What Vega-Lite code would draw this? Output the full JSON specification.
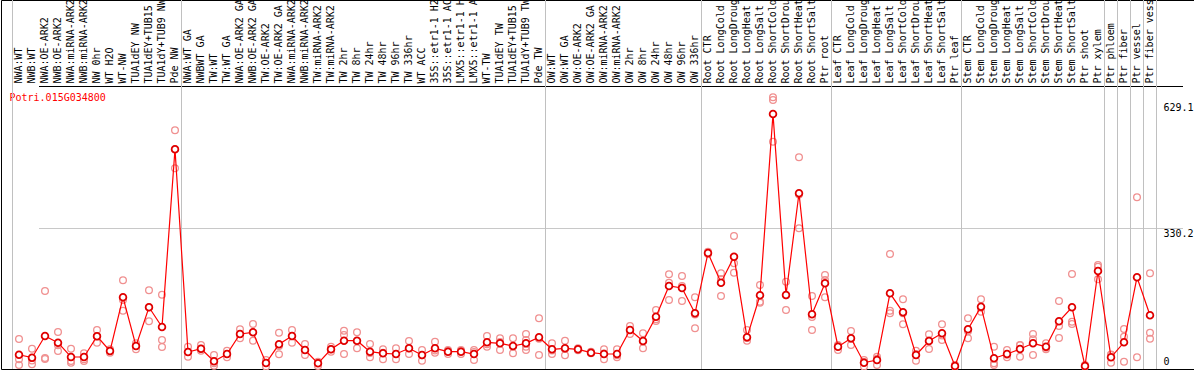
{
  "$schema": "https://vega.github.io/schema/vega-lite/v6.json",
  "width": 1193,
  "height": 369,
  "autosize": {"type": "none"},
  "padding": {"left": 1, "top": 0, "right": 0, "bottom": 1},
  "background": "white",
  "config": {"view": {"stroke": "black", "strokeWidth": 1}, "font": "DejaVu Sans Mono"},
  "data": {"values": [
    {"sample": "NWA:WT", "mean": 28.1, "reps": [65.6, 17.2, 3.6], "gs": true},
    {"sample": "NWB:WT", "mean": 21.0, "reps": [42.4, 14.3, 5.2]},
    {"sample": "NWA:OE-ARK2", "mean": 72.7, "reps": [180.0, 20.3, 18.0]},
    {"sample": "NWB:OE-ARK2", "mean": 56.7, "reps": [82.3, 37.0, 50.8]},
    {"sample": "NWA:miRNA-ARK2", "mean": 22.7, "reps": [42.4, 13.1, 9.1]},
    {"sample": "NWB:miRNA-ARK2", "mean": 22.7, "reps": [31.5, 17.2, 13.1]},
    {"sample": "NW 0hr", "mean": 72.0, "reps": [87.0, 56.7, 72.0]},
    {"sample": "WT H2O", "mean": 37.0, "reps": [41.0, 32.9, 37.0]},
    {"sample": "WT-NW", "mean": 165.0, "reps": [205.5, 133.0, 158.6]},
    {"sample": "TUA1dEY NW", "mean": 48.9, "reps": [55.3, 41.0, 48.9]},
    {"sample": "TUA1dEY+TUB15 NW", "mean": 141.2, "reps": [181.7, 107.8, 141.2]},
    {"sample": "TUA1dY+TUB9 NW", "mean": 94.2, "reps": [171.2, 63.2, 46.5]},
    {"sample": "Pde NW", "mean": 517.9, "reps": [563.2, 472.6, 517.9]},
    {"sample": "NWA:WT GA", "mean": 34.6, "reps": [47.2, 23.4, 34.6], "gs": true},
    {"sample": "NWBWT GA", "mean": 42.4, "reps": [51.3, 37.7, 42.4]},
    {"sample": "TW:WT", "mean": 12.4, "reps": [27.4, 1.9, 7.6]},
    {"sample": "TW:WT GA", "mean": 29.8, "reps": [37.7, 21.9, 29.8]},
    {"sample": "NWA:OE-ARK2 GA", "mean": 77.5, "reps": [88.7, 67.2, 77.5]},
    {"sample": "NWB:OE-ARK2 GA", "mean": 81.5, "reps": [101.3, 61.5, 81.5]},
    {"sample": "TW:OE-ARK2", "mean": 8.3, "reps": [15.5, 0.0, 8.3]},
    {"sample": "TW:OE-ARK2 GA", "mean": 52.9, "reps": [80.6, 29.1, 48.9]},
    {"sample": "NWA:miRNA-ARK2 GA", "mean": 72.7, "reps": [87.0, 56.7, 72.7]},
    {"sample": "NWB:miRNA-ARK2 GA", "mean": 39.3, "reps": [53.6, 27.4, 39.3]},
    {"sample": "TW:miRNA-ARK2", "mean": 7.6, "reps": [11.4, 1.2, 8.3]},
    {"sample": "TW:miRNA-ARK2 GA", "mean": 41.0, "reps": [47.2, 35.3, 41.0]},
    {"sample": "TW 2hr", "mean": 61.5, "reps": [85.4, 75.1, 29.8]},
    {"sample": "TW 8hr", "mean": 61.5, "reps": [81.5, 43.4, 60.8]},
    {"sample": "TW 24hr", "mean": 35.3, "reps": [53.6, 21.9, 32.2]},
    {"sample": "TW 48hr", "mean": 31.5, "reps": [41.0, 17.2, 32.9]},
    {"sample": "TW 96hr", "mean": 29.8, "reps": [43.4, 17.2, 29.8]},
    {"sample": "TW 336hr", "mean": 43.4, "reps": [60.8, 29.8, 43.4]},
    {"sample": "WT ACC", "mean": 27.4, "reps": [39.3, 13.8, 26.7]},
    {"sample": "35S::etr1-1 H2O", "mean": 43.4, "reps": [59.1, 32.9, 38.0]},
    {"sample": "35S::etr1-1 ACC", "mean": 35.3, "reps": [39.3, 29.8, 36.8]},
    {"sample": "LMX5::etr1-1 H2O", "mean": 35.3, "reps": [39.3, 29.8, 36.8]},
    {"sample": "LMX5::etr1-1 ACC", "mean": 29.8, "reps": [39.3, 15.5, 34.6]},
    {"sample": "WT-TW", "mean": 57.7, "reps": [72.7, 47.2, 52.9]},
    {"sample": "TUA1dEY TW", "mean": 55.3, "reps": [67.2, 39.3, 58.4]},
    {"sample": "TUA1dEY+TUB15 TW", "mean": 48.9, "reps": [67.2, 31.5, 47.5]},
    {"sample": "TUA1dY+TUB9 TW", "mean": 55.3, "reps": [77.5, 63.2, 47.2, 39.3]},
    {"sample": "Pde TW", "mean": 69.6, "reps": [114.9, 27.4, 66.0]},
    {"sample": "OW:WT", "mean": 41.0, "reps": [55.3, 29.8, 38.0], "gs": true},
    {"sample": "OW:WT GA", "mean": 43.4, "reps": [61.5, 26.7, 42.0]},
    {"sample": "OW:OE-ARK2", "mean": 41.0, "reps": [43.4, 38.6, 41.0]},
    {"sample": "OW:OE-ARK2 GA", "mean": 32.9, "reps": [35.3, 31.5, 32.0]},
    {"sample": "OW:miRNA-ARK2", "mean": 29.8, "reps": [41.0, 17.2, 31.0]},
    {"sample": "OW:miRNA-ARK2 GA", "mean": 29.8, "reps": [41.0, 21.9, 27.0]},
    {"sample": "OW 2hr", "mean": 87.0, "reps": [96.6, 77.5, 87.0]},
    {"sample": "OW 8hr", "mean": 60.8, "reps": [79.2, 43.4, 60.0]},
    {"sample": "OW 24hr", "mean": 118.7, "reps": [134.7, 112.5, 108.5]},
    {"sample": "OW 48hr", "mean": 191.9, "reps": [219.8, 158.6, 199.8]},
    {"sample": "OW 96hr", "mean": 187.2, "reps": [215.8, 156.2, 191.9]},
    {"sample": "OW 336hr", "mean": 126.8, "reps": [165.0, 91.1, 124.0]},
    {"sample": "Root CTR", "mean": 270.6, "reps": [273.7, 268.2, 270.0], "gs": true},
    {"sample": "Root LongCold", "mean": 199.8, "reps": [222.2, 168.1, 208.6]},
    {"sample": "Root LongDrought", "mean": 261.8, "reps": [311.2, 246.1, 223.7]},
    {"sample": "Root LongHeat", "mean": 69.6, "reps": [87.0, 61.5, 68.0]},
    {"sample": "Root LongSalt", "mean": 169.8, "reps": [194.3, 154.5, 152.1]},
    {"sample": "Root ShortCold", "mean": 602.1, "reps": [641.9, 635.5, 536.0]},
    {"sample": "Root ShortDrought", "mean": 170.5, "reps": [202.2, 134.7, 170.0]},
    {"sample": "Root ShortHeat", "mean": 413.0, "reps": [498.8, 329.5, 410.0]},
    {"sample": "Root ShortSalt", "mean": 124.5, "reps": [168.1, 87.0, 118.0]},
    {"sample": "Ptr root", "mean": 198.4, "reps": [218.2, 165.0, 206.0]},
    {"sample": "Leaf CTR", "mean": 47.2, "reps": [51.3, 39.3, 50.0], "gs": true},
    {"sample": "Leaf LongCold", "mean": 67.2, "reps": [84.6, 51.3, 66.0]},
    {"sample": "Leaf LongDrought", "mean": 9.1, "reps": [15.5, 0.0, 11.0]},
    {"sample": "Leaf LongHeat", "mean": 15.5, "reps": [23.4, 3.6, 18.6]},
    {"sample": "Leaf LongSalt", "mean": 174.5, "reps": [268.2, 133.0, 126.8]},
    {"sample": "Leaf ShortCold", "mean": 129.2, "reps": [160.2, 100.6, 127.0]},
    {"sample": "Leaf ShortDrought", "mean": 27.4, "reps": [37.7, 13.8, 30.0]},
    {"sample": "Leaf ShortHeat", "mean": 60.8, "reps": [76.8, 41.7, 62.0]},
    {"sample": "Leaf ShortSalt", "mean": 79.2, "reps": [100.6, 63.2, 74.0]},
    {"sample": "Ptr leaf", "mean": 1.2, "reps": [3.6, 0.0, 0.5]},
    {"sample": "Stem CTR", "mean": 88.7, "reps": [114.9, 67.2, 84.0], "gs": true},
    {"sample": "Stem LongCold", "mean": 142.6, "reps": [160.2, 130.7, 140.0]},
    {"sample": "Stem LongDrought", "mean": 19.6, "reps": [47.2, 7.6, 3.6]},
    {"sample": "Stem LongHeat", "mean": 29.8, "reps": [39.3, 21.9, 28.0]},
    {"sample": "Stem LongSalt", "mean": 41.7, "reps": [51.3, 23.4, 50.5]},
    {"sample": "Stem ShortCold", "mean": 55.3, "reps": [77.5, 64.9, 27.4]},
    {"sample": "Stem ShortDrought", "mean": 47.2, "reps": [55.3, 41.0, 45.0]},
    {"sample": "Stem ShortHeat", "mean": 107.8, "reps": [156.2, 96.6, 68.0]},
    {"sample": "Stem ShortSalt", "mean": 141.2, "reps": [220.6, 106.8, 101.3]},
    {"sample": "Ptr shoot", "mean": 1.2, "reps": [3.6, 0.0]},
    {"sample": "Ptr xylem", "mean": 227.7, "reps": [242.0, 238.0, 207.9]},
    {"sample": "Ptr phloem", "mean": 21.9, "reps": [27.4, 9.1, 28.6], "gs": true},
    {"sample": "Ptr fiber", "mean": 57.7, "reps": [89.4, 71.1, 11.4], "gs": true},
    {"sample": "Ptr vessel", "mean": 212.7, "reps": [403.4, 21.9], "gs": true},
    {"sample": "Ptr fiber vessel", "mean": 122.1, "reps": [222.2, 80.6, 66.3], "gs": true, "ge": true}
  ]},
  "encoding": {
    "x": {
      "field": "sample", "type": "nominal",
      "scale": {
        "type": "band",
        "domain": ["NWA:WT","NWB:WT","NWA:OE-ARK2","NWB:OE-ARK2","NWA:miRNA-ARK2","NWB:miRNA-ARK2","NW 0hr","WT H2O","WT-NW","TUA1dEY NW","TUA1dEY+TUB15 NW","TUA1dY+TUB9 NW","Pde NW","NWA:WT GA","NWBWT GA","TW:WT","TW:WT GA","NWA:OE-ARK2 GA","NWB:OE-ARK2 GA","TW:OE-ARK2","TW:OE-ARK2 GA","NWA:miRNA-ARK2 GA","NWB:miRNA-ARK2 GA","TW:miRNA-ARK2","TW:miRNA-ARK2 GA","TW 2hr","TW 8hr","TW 24hr","TW 48hr","TW 96hr","TW 336hr","WT ACC","35S::etr1-1 H2O","35S::etr1-1 ACC","LMX5::etr1-1 H2O","LMX5::etr1-1 ACC","WT-TW","TUA1dEY TW","TUA1dEY+TUB15 TW","TUA1dY+TUB9 TW","Pde TW","OW:WT","OW:WT GA","OW:OE-ARK2","OW:OE-ARK2 GA","OW:miRNA-ARK2","OW:miRNA-ARK2 GA","OW 2hr","OW 8hr","OW 24hr","OW 48hr","OW 96hr","OW 336hr","Root CTR","Root LongCold","Root LongDrought","Root LongHeat","Root LongSalt","Root ShortCold","Root ShortDrought","Root ShortHeat","Root ShortSalt","Ptr root","Leaf CTR","Leaf LongCold","Leaf LongDrought","Leaf LongHeat","Leaf LongSalt","Leaf ShortCold","Leaf ShortDrought","Leaf ShortHeat","Leaf ShortSalt","Ptr leaf","Stem CTR","Stem LongCold","Stem LongDrought","Stem LongHeat","Stem LongSalt","Stem ShortCold","Stem ShortDrought","Stem ShortHeat","Stem ShortSalt","Ptr shoot","Ptr xylem","Ptr phloem","Ptr fiber","Ptr vessel","Ptr fiber vessel"],
        "range": [11.5, 1155.5],
        "paddingInner": 0, "paddingOuter": 0
      },
      "axis": {
        "orient": "top", "offset": -86, "title": null,
        "labelAngle": -90, "labelAlign": "left", "labelBaseline": "middle", "labelPadding": 3,
        "labelFont": "DejaVu Sans Mono", "labelFontSize": 10, "labelColor": "black",
        "labelOverlap": false, "labelBound": false, "labelLimit": 300,
        "ticks": false, "domain": false, "grid": false
      }
    },
    "y": {
      "field": "mean", "type": "quantitative",
      "scale": {"domain": [-5.96, 873.8], "nice": false, "zero": false},
      "axis": {
        "orient": "right", "values": [0, 330.2, 629.1, 668.8], "format": ".1~f",
        "ticks": false, "domain": false,
        "grid": true, "gridWidth": 1,
        "gridColor": {"condition": {"test": "datum.value === 668.8", "value": "black"}, "value": "#c8c8c8"},
        "gridOpacity": {"condition": {"test": "datum.value === 330.2 || datum.value === 668.8", "value": 1}, "value": 0},
        "labelOpacity": {"condition": {"test": "datum.value === 668.8", "value": 0}, "value": 1},
        "labelPadding": -31, "labelAlign": "left",
        "labelBaseline": {"condition": {"test": "datum.value === 0", "value": "bottom"}, "value": "top"},
        "labelFont": "DejaVu Sans Mono", "labelFontSize": 10, "labelColor": "black",
        "labelOverlap": false, "labelFlush": false, "labelBound": false,
        "title": "Potri.015G034800", "titleAngle": 0, "titleX": -1185, "titleY": 97,
        "titleAlign": "left", "titleBaseline": "middle", "titleColor": "red",
        "titleFont": "DejaVu Sans Mono", "titleFontSize": 10, "titleFontWeight": "normal"
      }
    }
  },
  "layer": [
    {
      "transform": [{"filter": "datum.gs"}],
      "mark": {"type": "rule", "color": "#c0c0c0", "strokeWidth": 1},
      "encoding": {"x": {"field": "sample", "type": "nominal", "bandPosition": 0}, "y": null}
    },
    {
      "transform": [{"filter": "datum.ge"}],
      "mark": {"type": "rule", "color": "#c0c0c0", "strokeWidth": 1},
      "encoding": {"x": {"field": "sample", "type": "nominal", "bandPosition": 1}, "y": null}
    },
    {
      "transform": [{"flatten": ["reps"]}],
      "mark": {"type": "point", "shape": "circle", "filled": false, "stroke": "#f09090", "strokeWidth": 1.3, "size": 45, "opacity": 1},
      "encoding": {"y": {"field": "reps", "type": "quantitative", "title": "Potri.015G034800"}}
    },
    {
      "mark": {"type": "line", "color": "#ff0000", "strokeWidth": 1.2}
    },
    {
      "mark": {"type": "point", "shape": "circle", "filled": true, "fill": "white", "stroke": "#e00000", "strokeWidth": 1.8, "size": 45, "opacity": 1}
    }
  ]
}
